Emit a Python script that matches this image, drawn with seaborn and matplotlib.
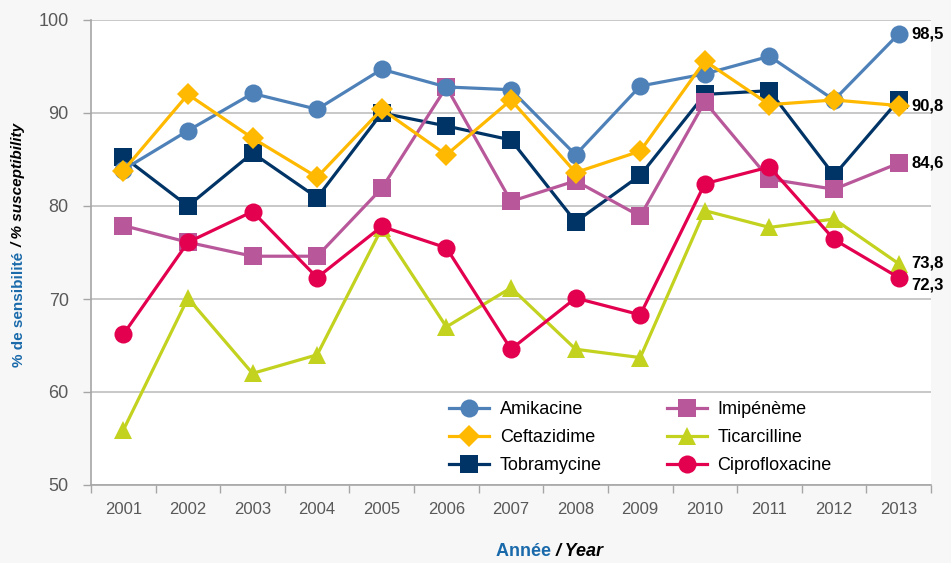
import matplotlib
matplotlib.use("Agg")
import matplotlib.pyplot as plt
from matplotlib.transforms import IdentityTransform
import seaborn as sns
import pandas as pd

years = ["2001", "2002", "2003", "2004", "2005", "2006", "2007",
         "2008", "2009", "2010", "2011", "2012", "2013"]

amikacine = [83.9, 88.1, 92.1, 90.4, 94.7, 92.8, 92.5, 85.5, 92.9, 94.2, 96.1, 91.4, 98.5]
ceftazidime = [83.8, 92.0, 87.3, 83.1, 90.4, 85.5, 91.4, 83.6, 85.9, 95.6, 90.9, 91.4, 90.8]
tobramycine = [85.3, 80.0, 85.7, 80.9, 90.0, 88.6, 87.1, 78.3, 83.3, 92.0, 92.4, 83.3, 91.4]
imipeneme = [77.9, 76.1, 74.6, 74.6, 81.9, 92.8, 80.5, 82.7, 78.9, 91.2, 82.9, 81.8, 84.6]
ticarcilline = [55.9, 70.1, 62.0, 64.0, 77.6, 67.0, 71.2, 64.6, 63.7, 79.5, 77.7, 78.6, 73.8]
ciprofloxacine = [66.2, 76.1, 79.4, 72.3, 77.8, 75.5, 64.6, 70.1, 68.3, 82.4, 84.2, 76.4, 72.3]

series_names = ["Amikacine", "Ceftazidime", "Tobramycine",
                "Imipénème", "Ticarcilline", "Ciprofloxacine"]
series_values = [amikacine, ceftazidime, tobramycine,
                 imipeneme, ticarcilline, ciprofloxacine]
end_labels = {"Amikacine": "98,5", "Ceftazidime": "90,8", "Imipénème": "84,6",
              "Ticarcilline": "73,8", "Ciprofloxacine": "72,3"}
yticks = [50, 60, 70, 80, 90, 100]

colors = {"Amikacine": "#4f81b9", "Ceftazidime": "#ffb900", "Tobramycine": "#003466",
          "Imipénème": "#b8589a", "Ticarcilline": "#c3d21f", "Ciprofloxacine": "#e3004f"}
markers = {"Amikacine": ("o", 13), "Ceftazidime": ("D", 11), "Tobramycine": ("s", 12.5),
           "Imipénème": ("s", 12.5), "Ticarcilline": ("^", 13), "Ciprofloxacine": ("o", 13)}
draw_order = ["Tobramycine", "Imipénème", "Amikacine", "Ceftazidime",
              "Ticarcilline", "Ciprofloxacine"]
label_dy = {"Ciprofloxacine": -7, "Ticarcilline": 1}

rows = []
for name, vals in zip(series_names, series_values):
    for i, (yr, v) in enumerate(zip(years, vals)):
        rows.append({"serie": name, "idx": i, "year": yr, "value": v})
df = pd.DataFrame(rows)

plt.rcParams["font.family"] = ["Liberation Sans", "DejaVu Sans"]

W, H = 951, 563
fig = plt.figure(figsize=(W / 100, H / 100), dpi=100, facecolor="#f7f7f7")
ax = fig.add_axes([91 / W, 1 - 485 / H, 840 / W, 465 / H])
ax.set_facecolor("white")

handles = {}
for z, name in enumerate(draw_order):
    sub = df[df["serie"] == name]
    m, ms = markers[name]
    sns.lineplot(data=sub, x="idx", y="value", ax=ax, color=colors[name],
                 marker=m, markersize=ms, linewidth=2.3, markeredgewidth=0,
                 markeredgecolor=colors[name], label=name, zorder=3 + z,
                 legend=False)
    handles[name] = ax.lines[-1]

ax.set_xlim(-0.5, len(years) - 0.5)
ax.set_ylim(50, 100)
ax.set_yticks(yticks)
ax.set_yticklabels([str(t) for t in yticks])
ax.set_xticks([i - 0.5 for i in range(len(years) + 1)])
ax.set_xticklabels([])
ax.set_xticks(list(range(len(years))), minor=True)
ax.set_xticklabels(years, minor=True)
ax.tick_params(axis="x", which="major", length=6, width=1, color="#a6a6a6", direction="out")
ax.tick_params(axis="x", which="minor", length=0, pad=12, labelsize=12, labelcolor="#595959")
ax.tick_params(axis="y", length=6, width=1, color="#a6a6a6", direction="out",
               pad=10, labelsize=13, labelcolor="#595959")
ax.set_xlabel("")
ax.set_ylabel("")
ax.grid(axis="y", color="#c8c8c8", linewidth=1.4)
ax.set_axisbelow(True)
for s in ["top", "right"]:
    ax.spines[s].set_visible(False)
for s in ["left", "bottom"]:
    ax.spines[s].set_color("#a6a6a6")
    ax.spines[s].set_linewidth(1.2)

# end labels
for name, vals in zip(series_names, series_values):
    if name in end_labels:
        ax.annotate(end_labels[name], xy=(len(years) - 1, vals[-1]),
                    xytext=(13, label_dy.get(name, 0)), textcoords="offset pixels",
                    ha="left", va="center", fontsize=12, fontweight="bold",
                    color="black", annotation_clip=False)

leg_order = ["Amikacine", "Ceftazidime", "Tobramycine",
             "Imipénème", "Ticarcilline", "Ciprofloxacine"]
leg = ax.legend([handles[n] for n in leg_order], leg_order, ncol=2,
                loc="upper left", bbox_to_anchor=((435 - 91) / 840, (485 - 387) / 465),
                frameon=True, fontsize=13, handlelength=2.2, handletextpad=0.6,
                columnspacing=3.6, labelspacing=0.6, borderpad=0.3)
leg.get_frame().set_facecolor("white")
leg.get_frame().set_edgecolor("none")
leg.set_zorder(20)

# axis titles with mixed styles (pixel coordinates, origin bottom-left)
fig.canvas.draw()
renderer = fig.canvas.get_renderer()
ident = IdentityTransform()


def place_pieces(pieces, x, y, vertical, size):
    texts = []
    for txt, col, style in pieces:
        t = fig.text(0, 0, txt, color=col, fontsize=size, fontweight="bold",
                     fontstyle=style, rotation=90 if vertical else 0,
                     ha="center" if vertical else "left",
                     va="bottom" if vertical else "center",
                     transform=ident)
        texts.append(t)
    sizes = []
    for t in texts:
        bb = t.get_window_extent(renderer)
        sizes.append(bb.height if vertical else bb.width)
    total = sum(sizes)
    pos = (y if vertical else x) - total / 2
    for t, s in zip(texts, sizes):
        if vertical:
            t.set_position((x, pos))
        else:
            t.set_position((pos, y))
        pos += s


place_pieces([("% de sensibilité ", "#1a6aab", "normal"),
              ("/ % susceptibility", "black", "italic")],
             19, H - 245, True, 11)
place_pieces([("Année ", "#1a6aab", "normal"),
              ("/ Year", "black", "italic")],
             550, H - 551, False, 13)

fig.savefig("out.png", dpi=100, facecolor=fig.get_facecolor())
